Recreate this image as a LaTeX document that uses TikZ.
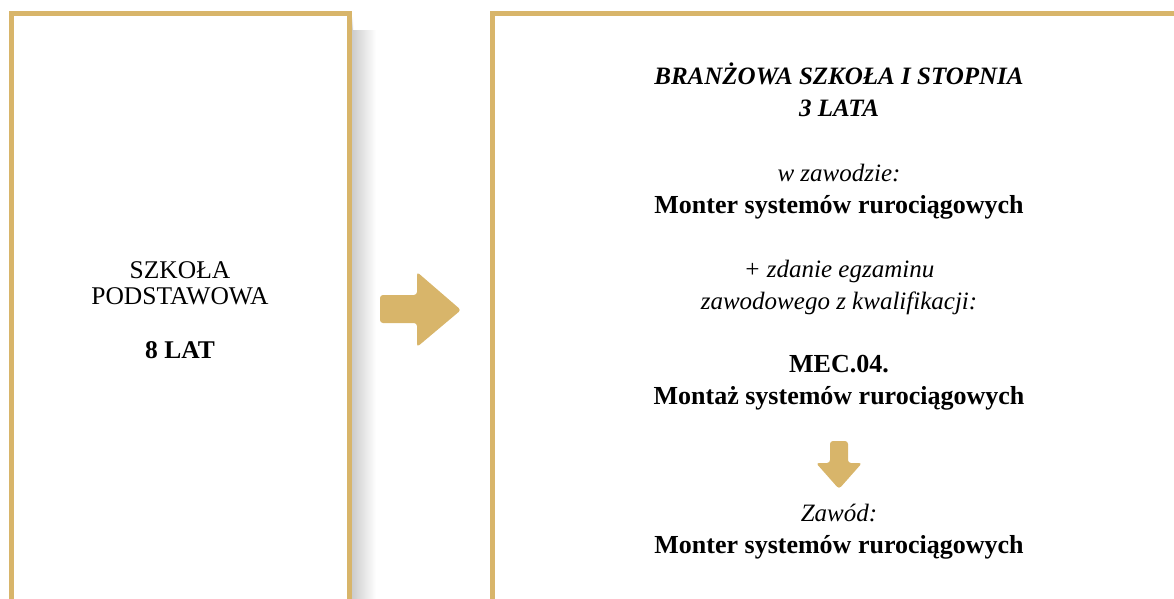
\documentclass[tikz,border=0pt]{standalone}
\usepackage{fontspec}
\setmainfont{Liberation Serif}
\usepackage{xcolor}
\usepackage{tikz}
\definecolor{gold}{HTML}{D8B56A}
\newcommand{\bigtxt}{\fontsize{25}{32}\selectfont}
\newcommand{\boldtxt}{\fontsize{26}{32}\selectfont\bfseries}
\newcommand{\midtxt}{\fontsize{25.5}{27}\selectfont}

\begin{document}
\begin{tikzpicture}[x = 1pt, y = -1pt]

    \useasboundingbox (0,0) rectangle (1174,598);
    \clip (0,0) rectangle (1174,598);

    % frames
    \shade[left color = black!20, right color = white] (352,30) rectangle (376,598);
    \shade[top color = white, bottom color = black!20] (352,16) rectangle (353,30);
    \draw[color = gold, line width = 5pt] (11.5,620) -- (11.5,13.5) -- (349.5,13.5) -- (349.5,620);
    \draw[color = gold, line width = 5pt] (492.5,620) -- (492.5,13.5) -- (1200,13.5);

    % arrows
    \fill[color = gold, rounded corners = 3pt] (380,295) -- (417,295) -- (417,272) -- (461,310)
        -- (417,347) -- (417,323) -- (380,323) -- cycle;
    \fill[color = gold, rounded corners = 3pt] (830,441) -- (848,441) -- (848,463) -- (862,463)
        -- (839,489) -- (816,463) -- (830,463) -- cycle;

    \node[anchor = base, font = \midtxt] (school1) at (180,278) {SZKOŁA};
    \node[anchor = base, font = \midtxt] (school2) at (180,304) {PODSTAWOWA};
    \node[anchor = base, font = \midtxt\bfseries] (years) at (180,358) {8 LAT};


    \node[anchor = base, font = \bigtxt\bfseries\itshape] (head1) at (839,84) {BRANŻOWA SZKOŁA I STOPNIA};
    \node[anchor = base, font = \bigtxt\bfseries\itshape] (head2) at (839,116) {3 LATA};

    \node[anchor = base, font = \bigtxt\itshape] (job1) at (839,181) {w zawodzie:};
    \node[anchor = base, font = \boldtxt] (job2) at (839,213) {Monter systemów rurociągowych};

    \node[anchor = base, font = \bigtxt\itshape] (exam1) at (839,277) {+ zdanie egzaminu};
    \node[anchor = base, font = \bigtxt\itshape] (exam2) at (839,309) {zawodowego z kwalifikacji:};

    \node[anchor = base, font = \boldtxt] (qual1) at (839,372) {MEC.04.};
    \node[anchor = base, font = \boldtxt] (qual2) at (839,404) {Montaż systemów rurociągowych};

    \node[anchor = base, font = \bigtxt\itshape] (title1) at (839,521) {Zawód:};
    \node[anchor = base, font = \boldtxt] (title2) at (839,553) {Monter systemów rurociągowych};

\end{tikzpicture}
\end{document}
